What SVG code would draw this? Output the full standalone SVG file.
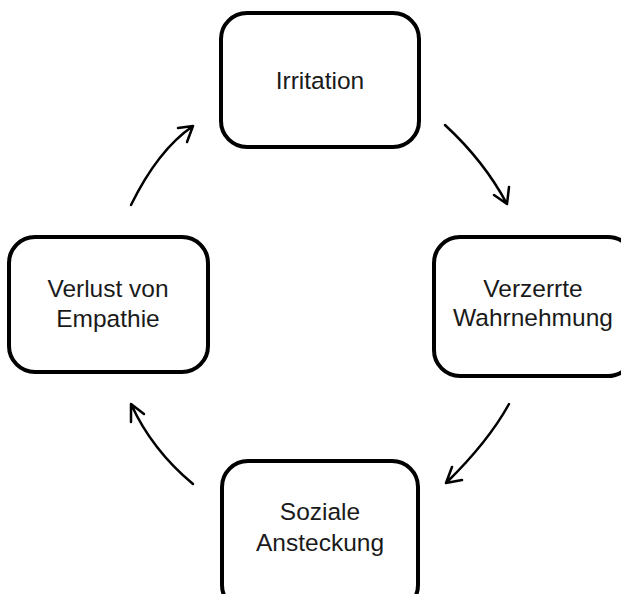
<svg xmlns="http://www.w3.org/2000/svg" width="621" height="594" viewBox="0 0 621 594">
<style>
.box{fill:#fff;stroke:#000;stroke-width:4}
.lbl{font-family:"Liberation Sans",Arial,sans-serif;font-size:24.5px;fill:#1a1a1a;text-anchor:middle}
.arr{fill:none;stroke:#000;stroke-width:2.5;stroke-linecap:round;stroke-linejoin:round}
</style>
<rect width="621" height="594" fill="#fff"/>
<g id="irritation">
<rect class="box" x="221" y="13" width="198" height="134" rx="26"/>
<text class="lbl" x="320" y="89">Irritation</text>
</g>
<g id="verzerrte">
<rect class="box" x="434" y="237" width="200" height="139" rx="26"/>
<text class="lbl" x="533" y="297">Verzerrte</text>
<text class="lbl" x="533" y="326">Wahrnehmung</text>
</g>
<g id="soziale">
<rect class="box" x="222" y="461" width="196" height="150" rx="26"/>
<text class="lbl" x="320" y="520">Soziale</text>
<text class="lbl" x="320" y="551">Ansteckung</text>
</g>
<g id="verlust">
<rect class="box" x="9" y="237" width="199" height="135" rx="26"/>
<text class="lbl" x="108" y="297">Verlust von</text>
<text class="lbl" x="108" y="327">Empathie</text>
</g>
<g id="connectors">
<path class="arr" d="M445,125 Q484,161 507,204 M494,195 L507,204 L509,187"/>
<path class="arr" d="M509,404 Q488,442 446,483 M452,467 L446,483 L462,480"/>
<path class="arr" d="M193,484 Q152,450 131,404 M131,422 L131,404 L144,414"/>
<path class="arr" d="M131,205 Q158,150 193,126 M178,128 L193,126 L187,142"/>
</g>
</svg>
